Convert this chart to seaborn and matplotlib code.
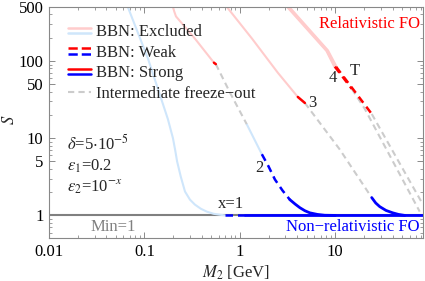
import numpy as np
import seaborn as sns
import matplotlib.pyplot as plt
from matplotlib.lines import Line2D
from matplotlib.legend_handler import HandlerBase
from matplotlib.ticker import FixedLocator, LogLocator, NullFormatter

# kolory
PINK = '#ffcccc'
LBLUE = '#cfe6fb'
RED = '#ff0000'
BLUE = '#0000ff'
LGRAY = '#cccccc'
MGRAY = '#808080'

# krzywa x=1
x1_excl_m = [0.067, 0.109, 0.176, 0.199, 0.21, 0.22, 0.24, 0.266, 0.30, 0.338,
             0.39, 0.45, 0.53, 0.62, 0.70]
x1_excl_s = [500, 107, 17.7, 10, 7, 5, 3.2, 2.04, 1.6, 1.38,
             1.22, 1.12, 1.05, 1.02, 1.0]
x1_weak_m = [0.70, 1.12]
x1_weak_s = [1.0, 1.0]
strong_floor_m = [1.12, 83]
strong_floor_s = [1.0, 1.0]
min1_m = [0.01, 83]
min1_s = [1.0, 1.0]

# krzywa x=2
x2_excl_top_m = [0.199, 0.205, 0.214, 0.24, 0.338, 0.535]
x2_excl_top_s = [500, 440, 378, 320, 195, 95]
x2_strong_red_m = [0.535, 0.56]
x2_strong_red_s = [95, 91]
x2_inter_m = [0.56, 0.80, 1.18]
x2_inter_s = [91, 37.5, 15.2]
x2_excl_low_m = [1.18, 1.70]
x2_excl_low_s = [15.2, 6.2]
x2_weak_m = [1.70, 2.0, 2.33, 2.8, 3.34]
x2_weak_s = [6.2, 4.3, 2.92, 2.1, 1.60]
x2_strong_m = [3.34, 3.8, 4.25, 4.8, 5.41, 6.5, 7.76, 10]
x2_strong_s = [1.60, 1.4, 1.26, 1.15, 1.08, 1.03, 1.005, 1.0]

# krzywa x=3
x3_excl_m = [0.731, 1.34, 2.50, 4.05]
x3_excl_s = [500, 195, 70.4, 34.2]
x3_strong_red_m = [4.05, 4.80]
x3_strong_red_s = [34.2, 28.6]
x3_inter_m = [4.80, 11.1, 24.1]
x3_inter_s = [28.6, 7.19, 1.70]
x3_strong_m = [24.1, 26.5, 29.2, 34, 40, 46, 53.5]
x3_strong_s = [1.70, 1.45, 1.30, 1.16, 1.08, 1.03, 1.0]

# krzywa x=4
x4_excl_m = [3.18, 8.15, 9.89]
x4_excl_s = [500, 136, 84.3]
x4_weak_m = [9.89, 14.9]
x4_weak_s = [84.3, 43.5]
x4_inter_m = [14.9, 20.4, 76.7]
x4_inter_s = [43.5, 23.9, 1.12]

# krzywa T
xT_excl_m = [3.25, 8.3, 10.2]
xT_excl_s = [500, 136, 84]
xT_weak_m = [10.2, 24.1]
xT_weak_s = [84, 20.6]
xT_inter_m = [24.1, 83]
xT_inter_s = [20.6, 1.38]


class HandlerPair(HandlerBase):
    """Rysuje dwie linie jedna nad druga w legendzie."""

    def create_artists(self, legend, orig_handle, xdescent, ydescent,
                       width, height, fontsize, trans):
        arts = []
        for h, frac in zip(orig_handle, (0.72, 0.28)):
            y = -ydescent + height * frac
            l = Line2D([-xdescent, -xdescent + width], [y, y],
                       color=h.get_color(), linestyle=h.get_linestyle(),
                       linewidth=h.get_linewidth())
            l.set_transform(trans)
            arts.append(l)
        return arts


sns.set_style("ticks")
plt.rcParams['font.family'] = ['Liberation Serif', 'DejaVu Serif']
plt.rcParams['mathtext.fontset'] = 'stix'
FS = 12

fig = plt.figure(figsize=(4.25, 2.81), dpi=100)
ax = fig.add_axes([49 / 425, 43 / 281, 374 / 425, 231 / 281])


def seg(m, s, color, lw, ls='-'):
    sns.lineplot(x=m, y=s, ax=ax, color=color, lw=lw, linestyle=ls,
                 sort=False, estimator=None)


DASH = (0, (3, 2))

# linia Min=1
seg(min1_m, min1_s, MGRAY, 1.5)

# wykluczone (jasne)
seg(x1_excl_m, x1_excl_s, LBLUE, 1.5)
seg(x2_excl_top_m, x2_excl_top_s, PINK, 1.5)
seg(x2_excl_low_m, x2_excl_low_s, LBLUE, 1.5)
seg(x3_excl_m, x3_excl_s, PINK, 1.5)
seg(x4_excl_m, x4_excl_s, PINK, 2.2)
seg(xT_excl_m, xT_excl_s, PINK, 2.2)

# posrednie zamrozenie
seg(x2_inter_m, x2_inter_s, LGRAY, 1.5, DASH)
seg(x3_inter_m, x3_inter_s, LGRAY, 1.5, DASH)
seg(x4_inter_m, x4_inter_s, LGRAY, 1.5, DASH)
seg(xT_inter_m, xT_inter_s, LGRAY, 1.5, DASH)

# slabe
seg(x1_weak_m, x1_weak_s, BLUE, 1.8, DASH)
seg(x2_weak_m, x2_weak_s, BLUE, 1.8, DASH)
seg(x4_weak_m, x4_weak_s, RED, 1.8, DASH)
seg(xT_weak_m, xT_weak_s, RED, 1.8, DASH)

# silne
seg(strong_floor_m, strong_floor_s, BLUE, 2.0)
seg(x2_strong_m, x2_strong_s, BLUE, 2.0)
seg(x3_strong_m, x3_strong_s, BLUE, 2.0)
seg(x2_strong_red_m, x2_strong_red_s, RED, 1.8)
seg(x3_strong_red_m, x3_strong_red_s, RED, 1.8)

ax.set(xscale='log', yscale='log', xlim=(0.01, 83), ylim=(0.51, 500))

ax.xaxis.set_major_locator(FixedLocator([0.01, 0.1, 1, 10]))
ax.set_xticklabels(['0.01', '0.1', '1', '10'])
ax.xaxis.set_minor_locator(LogLocator(base=10, subs=np.arange(2, 10), numticks=20))
ax.xaxis.set_minor_formatter(NullFormatter())
ax.yaxis.set_major_locator(FixedLocator([1, 5, 10, 50, 100, 500]))
ax.set_yticklabels(['1', '5', '10', '50', '100', '500'])
ax.yaxis.set_minor_locator(LogLocator(base=10, subs=np.arange(2, 10), numticks=20))
ax.yaxis.set_minor_formatter(NullFormatter())
ax.tick_params(which='both', direction='in', top=True, right=True,
               colors='#777777', labelcolor='black', labelsize=FS)
ax.tick_params(which='major', length=4, width=0.6, pad=4)
ax.tick_params(which='minor', length=2, width=0.5)
for sp in ax.spines.values():
    sp.set_color('#888888')
    sp.set_linewidth(0.8)

ax.set_xlabel(r'$M_2$ [GeV]', fontsize=FS, labelpad=3)
ax.set_ylabel(r'$S$', fontsize=FS)
ax.yaxis.set_label_coords(-0.083, 0.51)

# napisy
ax.text(76.7, 300, 'Relativistic FO', color=RED, ha='right', va='center', fontsize=FS)
ax.text(76.7, 0.70, 'Non\u2212relativistic FO', color=BLUE, ha='right', va='center', fontsize=FS)
ax.text(0.047, 0.70, 'Min=1', color=MGRAY, ha='center', va='center', fontsize=FS)
ax.text(0.80, 1.42, 'x=1', ha='center', va='center', fontsize=FS)
ax.text(1.62, 4.06, '2', ha='center', va='center', fontsize=FS)
ax.text(5.81, 28.6, '3', ha='center', va='center', fontsize=FS)
ax.text(9.42, 60.6, '4', ha='center', va='center', fontsize=FS)
ax.text(16.0, 74.8, 'T', ha='center', va='center', fontsize=FS)
ax.text(0.0154, 8.35, r'$\delta$=5$\cdot$10$^{-5}$', ha='left', va='center', fontsize=FS)
ax.text(0.0154, 4.32, r'$\epsilon_1$=0.2', ha='left', va='center', fontsize=FS)
ax.text(0.0154, 2.37, r'$\epsilon_2$=10$^{-x}$', ha='left', va='center', fontsize=FS)

# legenda
h_excl = (Line2D([], [], color=PINK, lw=1.8), Line2D([], [], color=LBLUE, lw=1.8))
h_weak = (Line2D([], [], color=RED, lw=1.8, ls=DASH),
          Line2D([], [], color=BLUE, lw=1.8, ls=DASH))
h_strong = (Line2D([], [], color=RED, lw=1.8), Line2D([], [], color=BLUE, lw=1.8))
h_inter = Line2D([], [], color=LGRAY, lw=1.5, ls=DASH)
ax.legend([h_excl, h_weak, h_strong, h_inter],
          ['BBN: Excluded', 'BBN: Weak', 'BBN: Strong', 'Intermediate freeze\u2212out'],
          handler_map={tuple: HandlerPair()}, loc='upper left',
          bbox_to_anchor=(0.029, 0.962), frameon=False, borderpad=0,
          handlelength=1.35, handletextpad=0.3, labelspacing=0.28, fontsize=FS)

fig.savefig('out.png', dpi=100)
